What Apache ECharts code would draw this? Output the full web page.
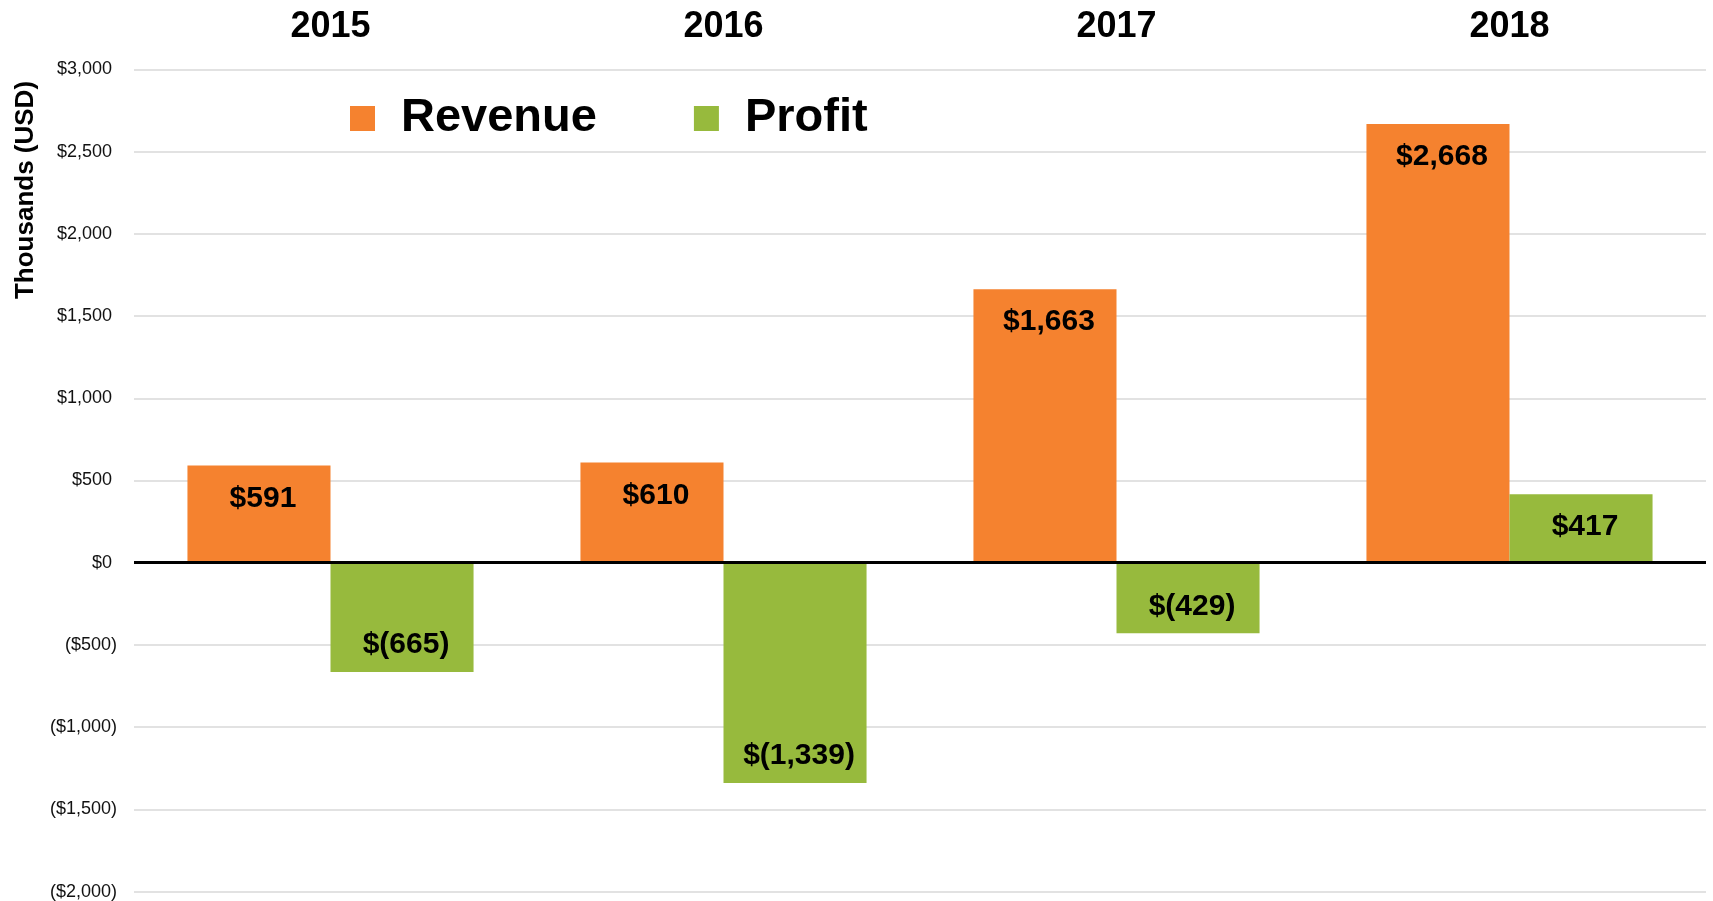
<!DOCTYPE html>
<html>
<head>
    <meta charset="UTF-8"/>
    <title>Revenue and Profit</title>
    <script src="https://cdn.jsdelivr.net/npm/echarts@6.0.0/dist/echarts.min.js"></script>
    <style>
        * {
            margin: 0;
            padding: 0;
        }

        body {
            background: #fff;
        }

        #chart {
            width: 1713px;
            height: 901px;
        }
    </style>
</head>
<body>
<div id="chart"></div>
<script>
    const years = ['2015', '2016', '2017', '2018'];
    const revenue = [591, 610, 1663, 2668];
    const profit = [-665, -1339, -429, 417];

    // excel style money: $1,663 / $(1,339)
    function money(v) {
        const s = Math.abs(v).toLocaleString('en-US');
        return v < 0 ? '$(' + s + ')' : '$' + s;
    }

    function axisMoney(v) {
        const s = Math.abs(v).toLocaleString('en-US');
        return v < 0 ? '($' + s + ')' : '$' + s + ' ';
    }

    const font = '"Liberation Sans", Arial, sans-serif';

    const barLabel = {
        show: true,
        fontFamily: font,
        fontSize: 30,
        fontWeight: 'bold',
        color: '#000',
        offset: [4, 0],
        formatter: p => money(p.value)
    };

    function labelled(values) {
        return values.map(v => ({
            value: v,
            label: v < 0 ? {position: 'insideBottom', distance: 12} : {position: 'insideTop', distance: 18}
        }));
    }

    const chart = echarts.init(document.getElementById('chart'));
    chart.setOption({
        animation: false,
        textStyle: {fontFamily: font},
        grid: {left: 134, right: 7, top: 69.3, bottom: 9.3},
        legend: {
            left: 345,
            top: 90,
            icon: 'rect',
            itemWidth: 25,
            itemHeight: 25,
            itemGap: 97,
            textStyle: {
                fontFamily: font,
                fontSize: 47,
                fontWeight: 'bold',
                color: '#000',
                padding: [0, 0, 0, 21]
            },
            data: ['Revenue', 'Profit']
        },
        graphic: [{
            type: 'text',
            x: 26,
            y: 190,
            rotation: Math.PI / 2,
            style: {
                text: 'Thousands (USD)',
                font: 'bold 26px ' + font,
                fill: '#000',
                align: 'center',
                verticalAlign: 'middle'
            }
        }],
        xAxis: {
            type: 'category',
            position: 'top',
            data: years,
            axisLine: {show: false},
            axisTick: {show: false},
            axisLabel: {
                margin: 24,
                fontFamily: font,
                fontSize: 36,
                fontWeight: 'bold',
                color: '#000'
            }
        },
        yAxis: {
            type: 'value',
            min: -2000,
            max: 3000,
            interval: 500,
            axisLine: {show: false},
            axisTick: {show: false},
            splitLine: {lineStyle: {color: '#d9d9d9', width: 1.5}},
            axisLabel: {
                margin: 17,
                fontFamily: font,
                fontSize: 18,
                color: '#111',
                formatter: axisMoney
            }
        },
        series: [{
            name: 'Revenue',
            type: 'bar',
            barGap: '0%',
            barCategoryGap: '27.2%',
            itemStyle: {color: '#F5822F'},
            label: barLabel,
            data: labelled(revenue),
            markLine: {
                silent: true,
                symbol: 'none',
                label: {show: false},
                lineStyle: {color: '#000', width: 3, type: 'solid'},
                data: [{yAxis: 0}]
            }
        }, {
            name: 'Profit',
            type: 'bar',
            itemStyle: {color: '#97BA3D'},
            label: barLabel,
            data: labelled(profit)
        }]
    });
</script>
</body>
</html>
